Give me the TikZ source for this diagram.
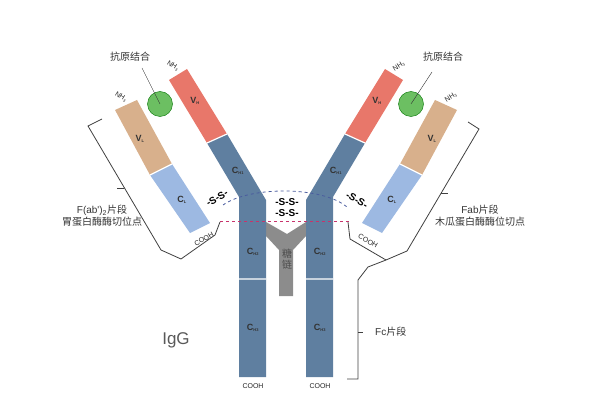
\documentclass[tikz,border=0pt]{standalone}
\usepackage{fontspec}
\setmainfont{Noto Sans CJK SC}
\newfontfamily\latin{Liberation Sans}
\definecolor{hblue}{HTML}{5F7FA0}
\definecolor{vhred}{HTML}{E8776A}
\definecolor{vltan}{HTML}{D8B08C}
\definecolor{clblue}{HTML}{9DB9E2}
\definecolor{agreen}{HTML}{6CBF62}
\definecolor{sugar}{HTML}{8C8C8C}
\definecolor{txt}{HTML}{333333}
\definecolor{cutred}{HTML}{C8336B}
\definecolor{cutblue}{HTML}{4A5C9E}
\tikzset{
  seg/.style = {font=\latin\fontsize{9}{9}\selectfont\bfseries, text=black!80, inner sep=0pt},
  endlbl/.style = {font=\latin\fontsize{7}{7}\selectfont, text=black!85, inner sep=0pt},
  note/.style = {font=\fontsize{10}{12}\selectfont, text=txt, align=center, inner sep=0pt},
  ss/.style = {font=\latin\fontsize{10}{10}\selectfont\bfseries, inner sep=0pt},
  bracket/.style = {draw=black!75, thick},
  antigen/.style = {circle, fill=agreen, draw=green!45!black, minimum size=25pt, inner sep=0pt}
}
\newcommand{\sg}[2]{#1\textsubscript{\fontsize{4}{4}\selectfont #2}}
\begin{document}
\begin{tikzpicture}[x=1pt,y=-1pt]
  \useasboundingbox (0,0) rectangle (600,409);
  % sugar
  \fill[sugar] (279,296) -- (279,250) -- (266,236) -- (266,222) -- (287,234) -- (306,222)
    -- (306,236) -- (293,250) -- (293,296) -- cycle;
  % heavy chains
  \fill[vhred] (169,80) -- (187,69) -- (227,134) -- (207,143) -- cycle;
  \fill[hblue] (207,143) -- (227,134) -- (266,200) -- (266,377) -- (239,377) -- (239,197) -- cycle;
  \fill[vhred] (403,80) -- (385,69) -- (345,134) -- (365,143) -- cycle;
  \fill[hblue] (365,143) -- (345,134) -- (306,200) -- (306,377) -- (333,377) -- (333,197) -- cycle;
  % light chains
  \fill[vltan] (115,110) -- (137,100) -- (172,164) -- (150,175) -- cycle;
  \fill[clblue] (150,175) -- (172,164) -- (210,223) -- (190,233) -- cycle;
  \fill[vltan] (457,110) -- (435,100) -- (400,164) -- (422,175) -- cycle;
  \fill[clblue] (422,175) -- (400,164) -- (362,223) -- (382,233) -- cycle;
  % white seams
  \draw[white, line width=1.2pt] (239,279) -- (266,279) (306,279) -- (333,279)
    (207,143) -- (227,134) (365,143) -- (345,134)
    (150,175) -- (172,164) (422,175) -- (400,164);
  % cut lines
  \draw[cutblue, dashed, thick] (223,205) .. controls (250,186) and (322,186) .. (347,207);
  \draw[cutred, dashed, thick] (220,221) -- (350,221);
  % antigens
  \node (agL) [antigen] at (160,104) {};
  \node (agR) [antigen] at (411,104) {};
  \node (agtxtL) [note] at (130,57) {抗原结合};
  \node (agtxtR) [note] at (443,57) {抗原结合};
  \coordinate (agpL) at (142,68);
  \coordinate (agpR) at (432,72);
  \draw[black!80] (agpL) -- (agL.center);
  \draw[black!80] (agpR) -- (agR.center);
  % segment labels
  \node (vhL) [seg] at (195,101) {\sg{V}{H}};
  \node (vhR) [seg] at (377,101) {\sg{V}{H}};
  \node (ch1L) [seg] at (238,171) {\sg{C}{H1}};
  \node (ch1R) [seg] at (336,171) {\sg{C}{H1}};
  \node (vlL) [seg] at (140,139) {\sg{V}{L}};
  \node (vlR) [seg] at (432,139) {\sg{V}{L}};
  \node (clL) [seg] at (182,200) {\sg{C}{L}};
  \node (clR) [seg] at (392,200) {\sg{C}{L}};
  \node (ch2L) [seg] at (253,252) {\sg{C}{H2}};
  \node (ch2R) [seg] at (320,252) {\sg{C}{H2}};
  \node (ch3L) [seg] at (253,328) {\sg{C}{H3}};
  \node (ch3R) [seg] at (320,328) {\sg{C}{H3}};
  \node (nhhL) [endlbl, rotate=-32] at (173,66) {NH\textsubscript{\fontsize{4}{4}\selectfont 3}};
  \node (nhlL) [endlbl, rotate=-32] at (121,97) {NH\textsubscript{\fontsize{4}{4}\selectfont 3}};
  \node (nhhR) [endlbl, rotate=32] at (399,66) {NH\textsubscript{\fontsize{4}{4}\selectfont 3}};
  \node (nhlR) [endlbl, rotate=32] at (451,97) {NH\textsubscript{\fontsize{4}{4}\selectfont 3}};
  \node (cooL) [endlbl, rotate=30] at (204,239) {COOH};
  \node (cooR) [endlbl, rotate=-30] at (368,241) {COOH};
  \node (coo1) [endlbl] at (253,386) {COOH};
  \node (coo2) [endlbl] at (320,386) {COOH};
  % disulfide bonds
  \node (ssL) [ss, rotate=30] at (217,198) {-S-S-};
  \node (ssR) [ss, rotate=-30] at (357,200) {-S-S-};
  \node (ssM1) [ss] at (287,202) {-S-S-};
  \node (ssM2) [ss] at (287,213) {-S-S-};
  \node (tang) [note, text=black!70, font=\fontsize{10}{11}\selectfont] at (287,259) {糖\\链};
  % brackets
  \draw[bracket] (102,119) -- (88,126) -- (161,250) -- (181,259) -- (215,235) -- (220,222);
  \draw[bracket] (124,188) -- (117,188);
  \draw[bracket] (468,122) -- (479,129) -- (407,251) -- (386,260) -- (350,239) -- (348,222);
  \draw[bracket] (441,193) -- (448,193);
  \draw[bracket] (386,260) -- (368,267) -- (358,280) -- (358,379) -- (347,379);
  \draw[bracket] (358,332) -- (363,332);
  \node (fab2) [note] at (102,216) {{\latin F(ab')}\textsubscript{\latin 2}片段\\胃蛋白酶酶切位点};
  \node (fab) [note] at (480,216) {{\latin Fab}片段\\木瓜蛋白酶酶位切点};
  \node (fc) [note, anchor=west] at (375,332) {{\latin Fc}片段};
  \node (igg) [note, font=\latin\fontsize{17}{17}\selectfont, text=black!65] at (176,340) {IgG};
\end{tikzpicture}
\end{document}
